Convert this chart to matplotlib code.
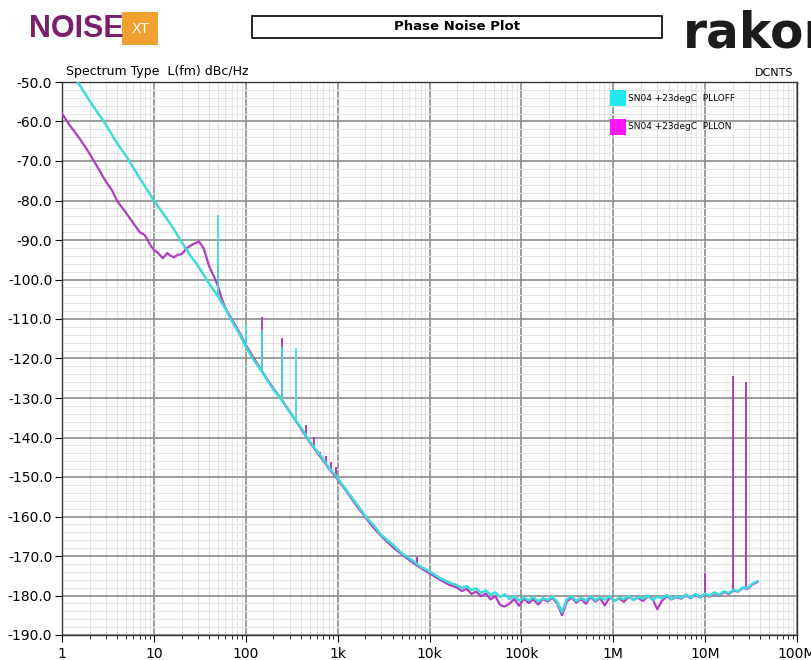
import numpy as np
import matplotlib
matplotlib.use("Agg")
import matplotlib.pyplot as plt
from matplotlib.patches import Rectangle
from matplotlib.ticker import FixedLocator, LogLocator, NullFormatter

# ---- data ----
series_labels = ["SN04 +23degC  PLLOFF", "SN04 +23degC  PLLON"]

off_freq = [1, 1.5, 2, 3, 4, 5, 7, 10, 13, 16, 20, 25, 30, 40, 50, 60, 70, 85,
            100, 120, 150, 200, 250, 300, 400, 500, 650, 800, 1000, 1300,
            1600, 2000, 2500, 3000, 4000, 5000, 6500, 8000, 10000, 13000, 16000]
off_vals = [-44, -50.2, -54.8, -60.8, -65.6, -68.8, -74.3, -80.0, -83.7, -86.8,
            -90.4, -94.0, -96.4, -101.1, -104.3, -107.4, -110.4, -113.7,
            -117.0, -120.1, -123.4, -127.9, -130.7, -133.6, -137.5, -141.1,
            -144.5, -147.6, -150.2, -153.9, -156.7, -159.9, -162.4, -164.7,
            -167.2, -169.3, -171.1, -172.7, -173.9, -175.6, -176.6]

on_freq = [1, 1.2, 1.5, 1.8, 2, 2.5, 3, 3.5, 4, 5, 6, 7, 8, 9, 10, 11, 12.5, 14,
           15, 16.5, 18, 20, 23, 27, 31, 35, 40, 45, 50, 55, 60, 70, 85, 100,
           120, 150, 200, 250, 300, 400, 500, 650, 800, 1000, 1300, 1600, 2000,
           2500, 3000, 4000, 5000, 6500, 8000, 10000, 13000, 16000]
on_vals = [-58.0, -60.8, -63.8, -66.5, -68.2, -72.0, -75.2, -77.4, -80.2, -83.2,
           -85.8, -88.0, -88.8, -91.0, -92.5, -93.2, -94.6, -93.3, -93.9, -94.4,
           -93.8, -93.6, -92.0, -91.0, -90.4, -92.2, -96.7, -99.2, -101.8,
           -105.0, -107.2, -110.0, -113.3, -116.5, -119.6, -123.2, -127.6,
           -130.6, -133.4, -137.8, -141.3, -144.9, -147.8, -150.6, -154.2,
           -157.2, -160.2, -163.0, -165.0, -167.8, -169.6, -171.6, -173.0,
           -174.4, -176.0, -177.2]

# noise floor, 20 kHz .. 37 MHz
floor_freq = np.geomspace(20e3, 37e6, 64)
off_floor = [-177.4, -178.1, -177.6, -178.6, -178.2, -179.3, -178.7, -179.8, -179.2, -180.4,
             -179.7, -180.9, -180.2, -181.3, -180.5, -181.2, -180.4, -181.5, -180.7, -181.1,
             -180.3, -181.6, -184.2, -181.0, -180.2, -181.4, -180.6, -181.3, -180.1, -181.2,
             -180.5, -181.0, -180.2, -181.4, -180.6, -180.9, -180.1, -181.2, -180.4, -180.8,
             -180.0, -181.1, -180.3, -180.7, -179.9, -180.9, -180.2, -180.6, -179.8, -180.5,
             -179.6, -180.4, -179.5, -180.1, -179.2, -179.8, -178.9, -179.4, -178.6, -178.9,
             -177.9, -178.1, -177.0, -176.4]
on_floor = [-178.0, -178.9, -178.3, -179.6, -179.0, -180.2, -179.5, -181.0, -180.1, -182.4,
            -182.8, -182.0, -180.9, -182.6, -180.8, -181.9, -181.0, -182.3, -180.9, -181.5,
            -180.6, -182.0, -185.0, -181.6, -180.5, -181.8, -180.9, -182.1, -180.4, -181.5,
            -180.7, -182.5, -180.5, -181.3, -180.8, -181.6, -180.3, -181.0, -180.6, -181.4,
            -180.1, -180.8, -183.5, -181.3, -180.2, -181.0, -180.4, -180.8, -180.0, -180.7,
            -179.8, -180.5, -179.7, -180.3, -179.4, -180.0, -179.1, -179.6, -178.8, -179.0,
            -178.1, -178.3, -177.2, -176.6]

off_spur_freq = [50, 100, 150, 250, 350]
off_spur_top = [-83.7, -111.5, -112.8, -117.0, -117.4]
on_spur_freq = [50, 150, 250, 450, 550, 650, 750, 850, 950, 7400, 10e6, 20e6, 28e6]
on_spur_top = [-96.6, -109.4, -114.9, -136.8, -139.8, -143.6, -144.8, -146.1,
               -147.4, -170.2, -174.3, -124.4, -126.0]

y_ticks = [-50, -60, -70, -80, -90, -100, -110, -120, -130, -140, -150, -160, -170, -180, -190]
x_ticks = [1, 10, 100, 1e3, 1e4, 1e5, 1e6, 1e7, 1e8]
x_ticklabels = ["1", "10", "100", "1k", "10k", "100k", "1M", "10M", "100M"]

CYAN = "#3ddcdc"
MAGENTA = "#b03cc4"

fig = plt.figure(figsize=(8.11, 6.6), dpi=100)
ax = fig.add_axes([62 / 811, 25 / 660, 735 / 811, 553 / 660])


def trace(freq, vals, floor):
    f = np.concatenate([np.array(freq, float), floor_freq])
    v = np.concatenate([np.array(vals, float), np.array(floor, float)])
    return f, v


on_f, on_v = trace(on_freq, on_vals, on_floor)
off_f, off_v = trace(off_freq, off_vals, off_floor)

ax.plot(on_f, on_v, color=MAGENTA, lw=1.6, zorder=3)
base = np.interp(np.log10(on_spur_freq), np.log10(on_f), on_v)
ax.vlines(on_spur_freq, base, on_spur_top, color=MAGENTA, lw=1.4, zorder=3)

ax.plot(off_f, off_v, color=CYAN, lw=1.8, zorder=4)
base = np.interp(np.log10(off_spur_freq), np.log10(off_f), off_v)
ax.vlines(off_spur_freq, base, off_spur_top, color=CYAN, lw=1.3, zorder=4)

ax.set_xscale("log")
ax.set_xlim(1, 1e8)
ax.set_ylim(-190, -50)
ax.set_xticks(x_ticks)
ax.set_xticklabels(x_ticklabels)
ax.xaxis.set_minor_locator(LogLocator(base=10, subs=np.arange(2, 10)))
ax.xaxis.set_minor_formatter(NullFormatter())
ax.set_yticks(y_ticks)
ax.set_yticklabels([f"{t:.1f}" for t in y_ticks])
ax.yaxis.set_minor_locator(FixedLocator(np.arange(-190, -49, 2)))

ax.grid(which="major", color="#8c8c8c", lw=1.2, zorder=1)
ax.grid(which="minor", color="#e2e2e2", lw=0.8, zorder=0)
ax.set_axisbelow(True)
ax.tick_params(which="both", direction="out", labelsize=10, colors="black")
ax.tick_params(axis="x", which="major", length=5, pad=4)
ax.tick_params(axis="x", which="minor", length=3)
ax.tick_params(axis="y", which="major", length=5, pad=2)
ax.tick_params(axis="y", which="minor", length=0)
for s in ax.spines.values():
    s.set_color("#333333")
    s.set_linewidth(1.0)

# legend drawn as coloured squares with labels
for i, (lab, col) in enumerate(zip(series_labels, ["#22e8ee", "#ff18ff"])):
    yy = 0.985 - i * 0.052
    ax.add_patch(Rectangle((0.746, yy - 0.028), 0.021, 0.028, transform=ax.transAxes,
                           facecolor=col, edgecolor="none", zorder=6))
    ax.text(0.770, yy - 0.014, lab, transform=ax.transAxes, fontsize=6.5,
            va="center", ha="left", zorder=6)

fig.text(66 / 811, 1 - 72 / 660, "Spectrum Type  L(fm) dBc/Hz", fontsize=9,
         va="center", ha="left")
fig.text(793 / 811, 1 - 73 / 660, "DCNTS", fontsize=8, va="center", ha="right")

# header
fig.patches.append(Rectangle((252 / 811, 1 - 38 / 660), 410 / 811, 22 / 660,
                             transform=fig.transFigure, facecolor="white",
                             edgecolor="black", lw=1.2))
fig.text(457 / 811, 1 - 27 / 660, "Phase Noise Plot", fontsize=9.5,
         fontweight="bold", ha="center", va="center")
fig.text(29 / 811, 1 - 29 / 660, "NOISE", fontsize=22, fontweight="bold",
         color="#7a1f6e", ha="left", va="center", family="Liberation Sans")
fig.patches.append(Rectangle((122 / 811, 1 - 45 / 660), 36 / 811, 33 / 660,
                             transform=fig.transFigure, facecolor="#f0a030",
                             edgecolor="none"))
fig.text(140 / 811, 1 - 29 / 660, "XT", fontsize=10, color="white",
         ha="center", va="center")
fig.text(683 / 811, 1 - 33 / 660, "rakon", fontsize=35, fontweight="bold",
         color="#1c1c1c", ha="left", va="center")

fig.savefig("out.png", dpi=100)
